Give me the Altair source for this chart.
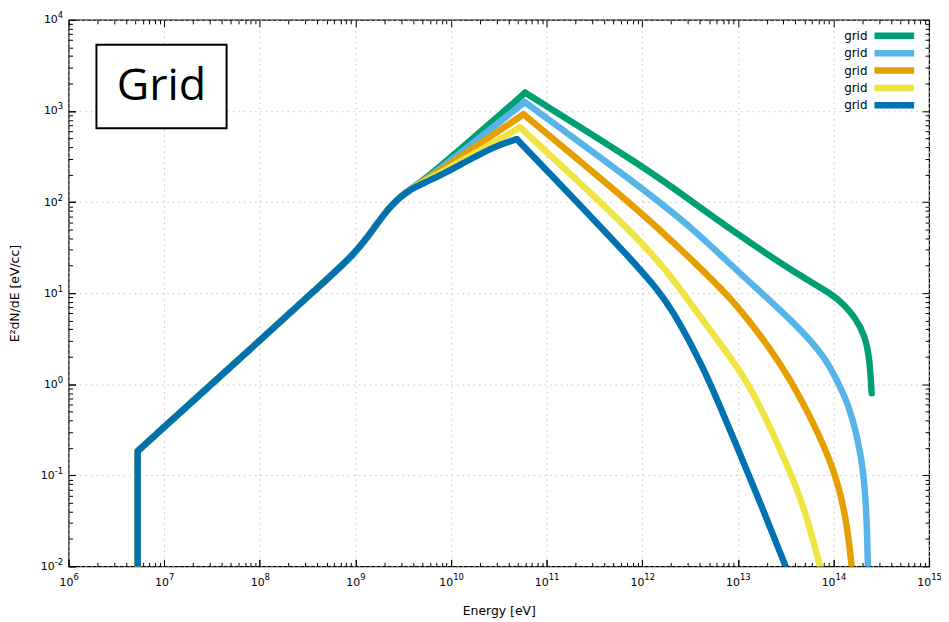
import altair as alt
import pandas as pd

# ---------------- data (log-log plot) ----------------
series_names = ["grid_1", "grid_2", "grid_3", "grid_4", "grid_5"]
legend_labels = ["grid", "grid", "grid", "grid", "grid"]
colors = ["#009E73", "#56B4E9", "#E69F00", "#F0E442", "#0072B2"]

# shared rising part (all curves coincide here)
common_E = [5.28e6, 5.28e6, 1e7, 1e8, 4e8, 1e9, 1.58e9, 2.34e9, 3.8e9]
common_F = [0.01, 0.184, 0.339, 3.03, 11.4, 27.2, 52.5, 93.3, 141]

green_E = [5.75e9, 5.96e10, 1.10e12, 3.16e12, 1e13, 3.98e13, 1e14, 1.32e14, 1.66e14, 2.14e14, 2.40e14, 2.51e14]
green_F = [186, 1585, 235, 105, 44.0, 16.6, 9.6, 7.24, 5.50, 3.47, 1.82, 0.794]

sky_E = [5.89e9, 5.90e10, 1.10e12, 3.63e12, 1.02e13, 3.98e13, 8.18e13, 1.12e14, 1.43e14, 1.96e14, 2.21e14, 2.29e14]
sky_F = [184, 1250, 132, 47.9, 16.9, 4.66, 2.0, 1.03, 0.619, 0.177, 0.0501, 0.01]

orange_E = [5.82e9, 5.73e10, 1.10e12, 3.16e12, 1e13, 3.13e13, 4.57e13, 5.92e13, 1.03e14, 1.37e14, 1.55e14]
orange_F = [182, 920, 70.1, 24.0, 7.64, 1.43, 0.676, 0.407, 0.116, 0.0331, 0.01]

yellow_E = [5.69e9, 5.28e10, 1.10e12, 2.43e12, 5.41e12, 1.06e13, 1.79e13, 3.12e13, 5.04e13, 7.23e13]
yellow_F = [174, 660, 34.5, 11.6, 3.60, 1.43, 0.525, 0.149, 0.0427, 0.01]

blue_E = [5.62e9, 1.26e10, 2.79e10, 4.88e10, 1.10e12, 2.09e12, 4.37e12, 6.31e12, 1e13, 1.78e13, 3.16e13]
blue_F = [166, 257, 407, 490, 16.2, 6.61, 1.51, 0.617, 0.195, 0.0457, 0.01]

series_E = [green_E, sky_E, orange_E, yellow_E, blue_E]
series_F = [green_F, sky_F, orange_F, yellow_F, blue_F]

x_ticks = [1e6, 1e7, 1e8, 1e9, 1e10, 1e11, 1e12, 1e13, 1e14, 1e15]
x_tick_exps = ["6", "7", "8", "9", "10", "11", "12", "13", "14", "15"]
y_ticks = [1e-2, 1e-1, 1e0, 1e1, 1e2, 1e3, 1e4]
y_tick_exps = ["-2", "-1", "0", "1", "2", "3", "4"]
tick_base = "10"
x_minor = [m * d for d in x_ticks[:-1] for m in range(2, 10)]
y_minor = [m * d for d in y_ticks[:-1] for m in range(2, 10)]

# segments: a = vertical start + straight rise (linear), b = rise to peak, c = fall from peak
N_LIN = 4
rows = []
for name, E, F in zip(series_names, series_E, series_F):
    allE, allF = common_E + E, common_F + F
    pk = allF.index(max(allF))
    for j, (e, f) in enumerate(zip(allE, allF)):
        if j < N_LIN:
            rows.append({"series": name, "seg": "a", "E": e, "F": f, "idx": j})
        if N_LIN - 1 <= j <= pk:
            rows.append({"series": name, "seg": "b", "E": e, "F": f, "idx": j})
        if j >= pk:
            rows.append({"series": name, "seg": "c", "E": e, "F": f, "idx": j})
df = pd.DataFrame(rows)

# ---------------- layout ----------------
W, H = 866, 550
FONT = "DejaVu Sans"
LFS, EFS = 11, 8.5          # tick label font size, exponent font size
MAJ, MIN = 7, 4

xscale = alt.Scale(type="log", domain=[1e6, 1e15], nice=False)
yscale = alt.Scale(type="log", domain=[1e-2, 1e4], nice=False)

x_exp_expr = "[" + ",".join(f"'{s}'" for s in x_tick_exps) + "][round(log(datum.value)/LN10) - 6]"
y_exp_expr = "[" + ",".join(f"'{s}'" for s in y_tick_exps) + "][round(log(datum.value)/LN10) + 2]"
base_expr = f"'{tick_base}'"

def tick_axis(orient, values, size, labels=False, **kw):
    return alt.Axis(orient=orient, values=values, grid=False, domain=False,
                    offset=-size, tickSize=size, tickColor="black", tickWidth=1,
                    labels=labels, **kw)

lab_common = dict(labelFont=FONT, labelColor="black", labelFlush=False,
                  labelOverlap=False, labelBound=False)
title_common = dict(titleFont=FONT, titleFontSize=12.5, titleFontWeight="normal",
                    titleColor="black", titleBaseline="middle")

grid_x = alt.Axis(values=x_ticks, grid=True, gridColor="#c4c4c4", gridDash=[1.5, 4],
                  gridWidth=1, ticks=False, labels=False, domain=False, title=None)
grid_y = alt.Axis(values=y_ticks, grid=True, gridColor="#c4c4c4", gridDash=[1.5, 4],
                  gridWidth=1, ticks=False, labels=False, domain=False, title=None)

def blank(x_axis, y_axis):
    return alt.Chart(df).mark_point(opacity=0, size=0).encode(
        x=alt.X("E:Q", scale=xscale, axis=x_axis),
        y=alt.Y("F:Q", scale=yscale, axis=y_axis))

layers = []
layers.append(blank(grid_x, grid_y))

# annotation box "Grid"
box_df = pd.DataFrame({"t": ["Grid"]})
layers.append(alt.Chart(box_df).mark_rect(fill="white", stroke="black", strokeWidth=2).encode(
    x=alt.value(28), x2=alt.value(159), y=alt.value(25), y2=alt.value(109)))
layers.append(alt.Chart(box_df).mark_text(font="Open Sans", fontSize=45, color="black",
                                          align="center", baseline="middle").encode(
    x=alt.value(93.5), y=alt.value(67), text="t:N"))

# curves, drawn in legend order (blue last, on top)
for name, col in zip(series_names, colors):
    layers.append(alt.Chart(df).transform_filter(
        (alt.datum.series == name) & (alt.datum.seg == "a")).mark_line(
        color=col, strokeWidth=6.5, strokeJoin="round", strokeCap="butt", clip=True).encode(
        x=alt.X("E:Q", scale=xscale, axis=None),
        y=alt.Y("F:Q", scale=yscale, axis=None),
        order="idx:Q"))
    layers.append(alt.Chart(df).transform_filter(
        (alt.datum.series == name) & (alt.datum.seg != "a")).mark_line(
        color=col, strokeWidth=6.5, strokeJoin="round", strokeCap="round",
        interpolate="basis", clip=True).encode(
        x=alt.X("E:Q", scale=xscale, axis=None),
        y=alt.Y("F:Q", scale=yscale, axis=None),
        detail="seg:N",
        order="idx:Q"))

# axes: base "10" labels and raised exponents, inward ticks mirrored on top/right
layers.append(blank(
    tick_axis("bottom", x_ticks, MAJ, labels=True, labelExpr=base_expr, labelFontSize=LFS,
              labelAlign="center", labelPadding=10,
              labelOffset={"condition": {"test": "datum.value >= 1e10", "value": -5.4}, "value": -2.7},
              title="Energy [eV]", titleY=51, **lab_common, **title_common),
    tick_axis("left", y_ticks, MAJ, labels=True, labelExpr=base_expr, labelFontSize=LFS,
              labelAlign="right", labelBaseline="middle",
              labelPadding={"condition": {"test": "datum.value < 0.5", "value": 14.5}, "value": 11.4},
              title="E²dN/dE [eV/cc]", titleX=-61, **lab_common, **title_common)))
layers.append(blank(
    tick_axis("bottom", x_ticks, MAJ, labels=True, labelExpr=x_exp_expr, labelFontSize=EFS,
              labelAlign="left", labelPadding=6.5,
              labelOffset={"condition": {"test": "datum.value >= 1e10", "value": 1.6}, "value": 4.3},
              title=None, **lab_common),
    tick_axis("left", y_ticks, MAJ, labels=True, labelExpr=y_exp_expr, labelFontSize=EFS,
              labelAlign="right", labelBaseline="middle", labelPadding=6, labelOffset=-5,
              title=None, **lab_common)))
layers.append(blank(tick_axis("bottom", x_minor, MIN, title=None),
                    tick_axis("left", y_minor, MIN, title=None)))
layers.append(blank(tick_axis("top", x_ticks, MAJ, title=None),
                    tick_axis("right", y_ticks, MAJ, title=None)))
layers.append(blank(tick_axis("top", x_minor, MIN, title=None),
                    tick_axis("right", y_minor, MIN, title=None)))

# legend (label left, line sample right, gnuplot style)
for i, (lab, col) in enumerate(zip(legend_labels, colors)):
    ldf = pd.DataFrame({"label": [lab]})
    ry = 16 + 17.5 * i
    layers.append(alt.Chart(ldf).mark_text(font=FONT, fontSize=12, color="black",
                                           align="right", baseline="middle").encode(
        x=alt.value(804), y=alt.value(ry), text="label:N"))
    layers.append(alt.Chart(ldf).mark_rule(color=col, strokeWidth=6.5).encode(
        x=alt.value(811), x2=alt.value(851), y=alt.value(ry)))

chart = alt.layer(*layers).resolve_axis(x="independent", y="independent").properties(
    width=W, height=H, autosize="none",
    padding={"left": 61, "top": 10, "right": 12, "bottom": 52},
    background="white",
).configure_view(stroke="black", strokeWidth=1.2)

chart.save("out.html", embed_options={"renderer": "svg", "actions": False})
